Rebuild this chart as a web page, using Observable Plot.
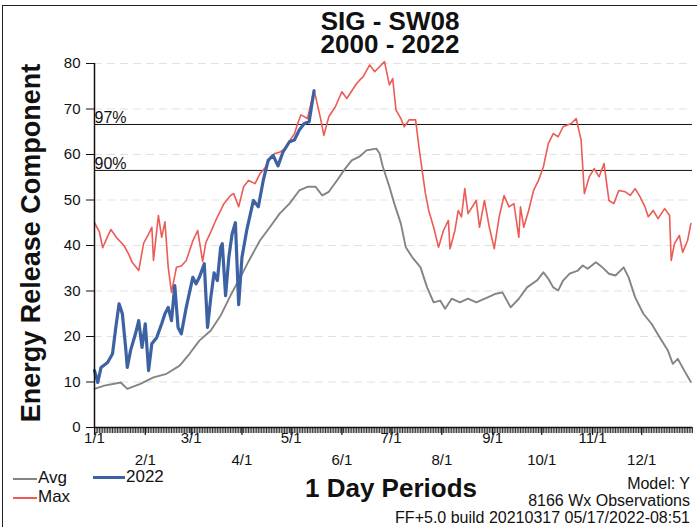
<!DOCTYPE html>
<html><head><meta charset="utf-8">
<script src="https://cdn.jsdelivr.net/npm/d3@7"></script>
<script src="https://cdn.jsdelivr.net/npm/@observablehq/plot@0.6"></script>
<style>
body{margin:0;background:#fff;font-family:"Liberation Sans",Arial,sans-serif;}
#wrap{position:relative;width:697px;height:527px;overflow:hidden;background:#fff;}
#chart{position:absolute;left:0;top:0;}
.t{position:absolute;white-space:nowrap;color:#111;}
.sw{display:inline-block;width:24px;vertical-align:middle;margin-right:1px;}
#frame{position:absolute;left:2px;top:5px;width:700px;height:540px;border-top:1px solid #222;border-left:1.5px solid #222;}
</style></head><body>
<div id="wrap">
<div id="frame"></div>
<div id="chart"></div>
<div class="t" style="left:290px;width:200px;top:10px;text-align:center;font-weight:bold;font-size:26px;line-height:23px;">SIG - SW08<br>2000 - 2022</div>
<div class="t" style="left:31px;top:243px;transform:translate(-50%,-50%) rotate(-90deg);font-weight:bold;font-size:27px;line-height:26px;">Energy Release Component</div>
<div class="t" style="left:13px;top:470px;font-size:17px;line-height:15px;"><span class="sw" style="height:2px;background:#848484"></span>Avg</div>
<div class="t" style="left:93px;top:469px;font-size:17px;line-height:15px;"><span class="sw" style="width:32px;height:3px;background:#3d62a3"></span>2022</div>
<div class="t" style="left:13px;top:489px;font-size:17px;line-height:15px;"><span class="sw" style="height:2px;background:#ec5b55"></span>Max</div>
<div class="t" style="left:291px;width:200px;top:475px;text-align:center;font-weight:bold;font-size:26px;line-height:26px;">1 Day Periods</div>
<div class="t" style="right:7px;top:475px;text-align:right;font-size:16px;line-height:17px;">Model: Y<br>8166 Wx Observations<br>FF+5.0 build 20210317 05/17/2022-08:51</div>
</div>
<script>
// Day of year (0 = Jan 1) and Energy Release Component values
const maxDays = [0,3,5,8,10,14,18,21,23,27,30,33,35,36,39,41,43,45,47,50,53,56,60,63,66,68,71,74,77,79,83,85,88,91,94,98,101,104,107,110,113,116,119,122,124,126,130,134,138,140,143,147,151,154,158,160,162,164,168,171,177,180,182,184,187,189,192,196,198,200,202,204,207,210,213,216,217,220,222,224,226,228,233,235,238,241,244,247,250,253,256,259,260,262,265,268,271,274,277,280,283,286,291,294,297,299,302,305,308,311,314,317,320,324,327,330,333,336,338,341,344,348,351,352,354,357,359,362,364];
const maxVals = [45,43,39.5,42,43.5,41.5,40,38,36.3,34.5,40.5,42.5,44,36.7,46.6,41.8,45.2,35.2,29.7,35.2,35.5,36.7,41,43.3,36.5,40.7,43,45.5,47.7,49.2,51,51.4,48.5,52.9,54.3,53.6,55.8,57,59,60.2,60.5,61.2,63,64.5,66.8,68.7,67.9,74.2,67.9,64.2,68.3,70.5,73.8,72.3,74.5,75.6,76.4,77.1,79.7,78.2,80.4,75.3,76.7,69.8,67.9,66.1,67.6,67.6,61.7,56.5,51.4,47.7,44,39.6,43.3,45.5,39.3,43.3,47.7,46.3,52.5,47,49.9,44,49.9,44,39.3,46.3,51,48.5,49.2,41.8,48.5,44,47.7,52.1,54.3,57.3,62.4,64.6,63.9,66.1,66.8,67.9,63.2,51.4,55.1,56.9,55.1,58,49.9,49.2,52.1,51.8,51,52.5,50.7,48.5,46.3,47.7,45.9,48.1,46.6,36.7,40.4,42.2,38.5,41.1,44.8];

const avgDays = [0,6,16,20,28,36,44,52,58,64,71,77,83,89,94,101,107,113,119,125,130,135,139,143,148,153,157,162,166,172,174,176,180,183,187,190,194,199,203,207,211,214,218,223,228,233,240,245,249,254,259,264,270,274,277,280,283,286,290,295,298,301,306,310,314,318,323,326,330,335,340,345,350,353,356,360,364];
const avgVals = [8.5,9.2,9.9,8.5,9.6,11,11.8,13.6,16.2,19.1,21.3,24.6,29,33,36.5,41.1,44,47,49.2,52.1,52.9,52.9,51,51.8,54.3,56.9,58.7,59.6,60.9,61.3,60.2,57.3,52.9,49.2,44.8,39.6,37.4,35.2,30.8,27.5,27.9,26.1,28.3,27.5,28.3,27.5,28.6,29.4,29.7,26.4,28.3,30.8,32.3,34.1,32.7,30.8,30.1,32.3,33.8,34.5,35.6,34.9,36.3,35.2,33.8,33.4,35.2,33,28.6,25,22.8,19.8,16.9,14,15.1,12.5,10];

const curDays = [0,2,4,8,11,13,15,17,19,20,22,25,27,29,31,33,35,38,41,43,45,47,49,51,53,56,60,62,64,67,69,71,73,75,77,78,80,82,84,86,88,90,93,97,100,103,106,109,112,115,119,122,125,128,131,134];
const curVals = [12.5,9.9,13.2,14.3,16.2,22,27.2,25,17.6,13.2,16.9,20.6,23.5,17.6,22.8,12.5,18.4,19.8,22.8,25,26.4,23.5,31.2,22,20.6,26.4,33,31.6,33,36,22,28.6,34,32.3,39.6,40.4,29,37.4,42.6,45,27,37.4,43.5,49.9,48.5,54.3,58.7,59.8,57.5,60.5,62.8,63.2,65.4,66.8,67.2,74];

const pctLabels = ["97%", "90%"];
const pctValues = [66.6, 56.5];

const yTicks = [0,10,20,30,40,50,60,70,80];
const monthDays = [0,31,59,90,120,151,181,212,243,273,304,334];
const monthLabels = ["1/1","2/1","3/1","4/1","5/1","6/1","7/1","8/1","9/1","10/1","11/1","12/1"];

const toTable = (days, vals) => days.map((d, i) => ({day: d, v: vals[i]}));
const maxTable = toTable(maxDays, maxVals);
const avgTable = toTable(avgDays, avgVals);
const curTable = toTable(curDays, curVals);
const pctTable = pctLabels.map((l, i) => ({label: l, v: pctValues[i]}));
const fmtMonth = d => monthLabels[monthDays.indexOf(d)];
const rowA = monthDays.filter((d, i) => i % 2 === 0);
const rowB = monthDays.filter((d, i) => i % 2 === 1);
const dayTicks = d3.range(0, 366);

const plot = Plot.plot({
  width: 697, height: 527,
  marginLeft: 94, marginRight: 5, marginTop: 63, marginBottom: 100,
  x: {domain: [0, 365]},
  y: {domain: [0, 80]},
  style: {fontFamily: "Liberation Sans, Arial, sans-serif", fontSize: "15px", color: "#111", background: "transparent"},
  marks: [
    Plot.gridY(yTicks.slice(1), {stroke: "#aaa", strokeOpacity: 0.35, strokeDasharray: "8,5"}),
    Plot.ruleY(pctValues, {stroke: "#111", strokeWidth: 1}),
    Plot.text(pctTable, {x: 0, y: "v", text: "label", textAnchor: "start", lineAnchor: "bottom", dy: -1, fontSize: 16}),
    Plot.line(avgTable, {x: "day", y: "v", stroke: "#848484", strokeWidth: 1.9}),
    Plot.line(maxTable, {x: "day", y: "v", stroke: "#ec5b55", strokeWidth: 1.6}),
    Plot.line(curTable, {x: "day", y: "v", stroke: "#3d62a3", strokeWidth: 3.2}),
    Plot.axisY({ticks: yTicks, tickSize: 8, tickPadding: 6, label: null}),
    Plot.axisX(dayTicks, {tickSize: 6, text: null, label: null, stroke: "#333", strokeWidth: 1}),
    Plot.axisX(monthDays, {tickSize: 8, text: null, label: null, stroke: "#111", strokeWidth: 1.2}),
    Plot.axisX(rowA, {tickSize: 0, tickPadding: 5, tickFormat: fmtMonth, label: null}),
    Plot.axisX(rowB, {tickSize: 0, tickPadding: 27, tickFormat: fmtMonth, label: null}),
    Plot.ruleX([0], {stroke: "#111", strokeWidth: 1.5}),
    Plot.ruleY([0], {stroke: "#111", strokeWidth: 1.5})
  ]
});
document.getElementById("chart").appendChild(plot);
</script>
</body></html>
